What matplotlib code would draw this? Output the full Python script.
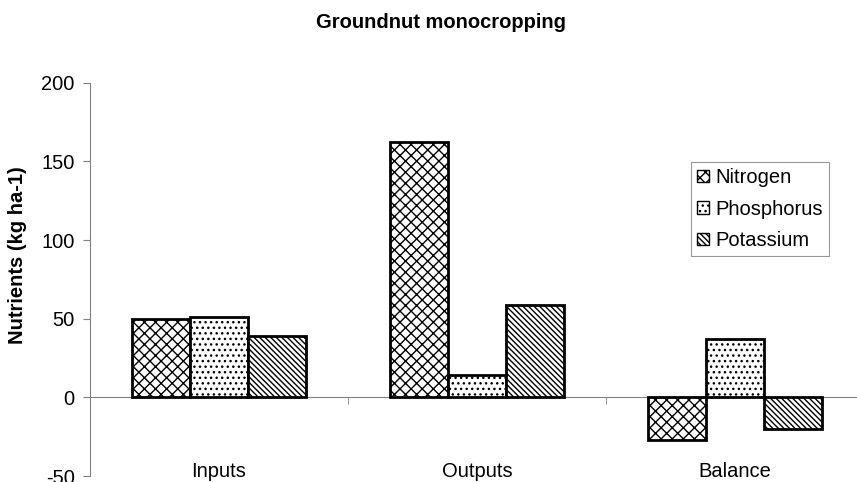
import matplotlib
matplotlib.use("Agg")
import matplotlib.pyplot as plt
import numpy as np

categories = ["Inputs", "Outputs", "Balance"]
series_names = ["Nitrogen", "Phosphorus", "Potassium"]
nitrogen = [50, 162, -27]
phosphorus = [51, 14, 37]
potassium = [39, 59, -20]
y_ticks = [-50, 0, 50, 100, 150, 200]

plt.rcParams['font.family'] = ['Liberation Sans', 'DejaVu Sans']
plt.rcParams['hatch.linewidth'] = 1.0
plt.rcParams['axes.unicode_minus'] = False

W, H = 857, 482
fig = plt.figure(figsize=(W/100, H/100), dpi=100)
ax = fig.add_axes([90/W, 6/H, (864-90)/W, (476-82.7)/H])

x = np.arange(len(categories))
bw = 0.225
hatches = ['xxx', '...', '\\\\\\\\\\\\']
for i, (vals, name, h) in enumerate(zip([nitrogen, phosphorus, potassium], series_names, hatches)):
    ax.bar(x + (i-1)*bw, vals, width=bw, color='white', edgecolor='black',
           linewidth=2.0, hatch=h, label=name, zorder=3)

ax.set_xlim(-0.5, 2.5)
ax.set_ylim(-50, 200)
ax.set_yticks(y_ticks)
ax.tick_params(axis='y', direction='out', length=5, color='#808080', labelsize=14.5, pad=6)

for s in ['top', 'right']:
    ax.spines[s].set_visible(False)
ax.spines['left'].set_color('#808080')
ax.spines['bottom'].set_position(('data', 0))
ax.spines['bottom'].set_color('#808080')
ax.set_xticks([])
ax.set_xticks([0.5, 1.5], minor=True)
ax.tick_params(axis='x', which='minor', direction='out', length=5, color='#808080', labelbottom=False)

for xi, c in zip(x, categories):
    ax.text(xi, -47, c, ha='center', va='center', fontsize=14.5)

fig.text(441/W, 1-22/H, "Groundnut monocropping", ha='center', va='center',
         fontsize=14.5, fontweight='bold')
fig.text(18/W, 1-255/H, "Nutrients (kg ha-1)", ha='center', va='center',
         rotation=90, fontsize=14.5, fontweight='bold')

leg = ax.legend(loc='upper left', bbox_to_anchor=(691/W, 1-162/H), bbox_transform=fig.transFigure,
                fontsize=14.5, frameon=True, fancybox=False, edgecolor='#808080',
                handlelength=0.6, handleheight=0.6, handletextpad=0.3, labelspacing=0.62,
                borderpad=0.3, borderaxespad=0)
leg.get_frame().set_linewidth(0.8)
for p in leg.get_patches():
    p.set_linewidth(1.0)

fig.savefig("out.png", dpi=100)
